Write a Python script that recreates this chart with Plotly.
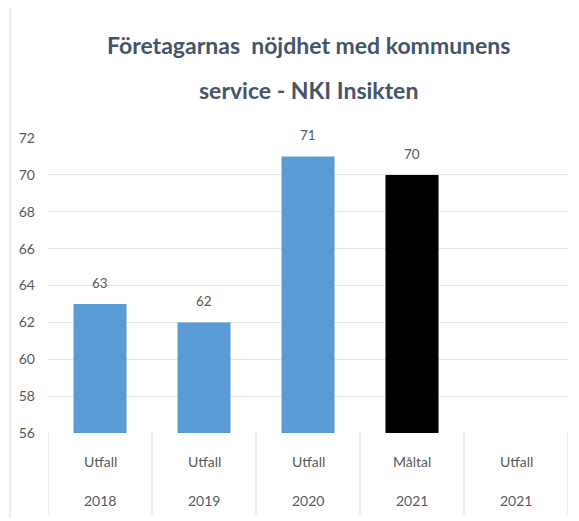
import plotly.graph_objects as go

types = ["Utfall", "Utfall", "Utfall", "Måltal", "Utfall"]
years = ["2018", "2019", "2020", "2021", "2021"]
values = [63, 62, 71, 70, None]
colors = ["#5B9BD5", "#5B9BD5", "#5B9BD5", "#000000", "#5B9BD5"]
y_ticks = [56, 58, 60, 62, 64, 66, 68, 70, 72]

n = len(types)
idx = list(range(n))
txt_col = "#595959"
grid_col = "#DFE4EC"
font_fam = "Lato, 'Open Sans', sans-serif"
PH = 295.0  # plot height in px

fig = go.Figure()
fig.add_trace(go.Bar(
    x=idx, y=[v - 56 if v is not None else None for v in values], base=56,
    marker=dict(color=colors, line=dict(width=0)),
    width=0.51,
    hoverinfo="skip",
))

shapes = []
for i in range(n + 1):
    shapes.append(dict(type="line", xref="x", yref="paper", x0=i - 0.5, x1=i - 0.5,
                       y0=0, y1=-82 / PH, line=dict(color=grid_col, width=1.3)))
shapes.append(dict(type="line", xref="paper", yref="paper", x0=-38 / 520, x1=-38 / 520,
                   y0=-85 / PH, y1=1 + 130 / PH, line=dict(color="#DDE3EC", width=1.3)))

annotations = []
for i in idx:
    if values[i] is not None:
        annotations.append(dict(x=i, y=values[i], xref="x", yref="y", text=str(values[i]),
                                showarrow=False, yanchor="middle", yshift=21,
                                font=dict(size=13.5, color=txt_col, family=font_fam)))
    annotations.append(dict(x=i, y=-28 / PH, xref="x", yref="paper", text=types[i],
                            showarrow=False, yanchor="middle",
                            font=dict(size=14, color=txt_col, family=font_fam)))
    annotations.append(dict(x=i, y=-67 / PH, xref="x", yref="paper", text=years[i],
                            showarrow=False, yanchor="middle",
                            font=dict(size=14, color=txt_col, family=font_fam)))

title_col = "#44546A"
annotations.append(dict(x=0.5, y=1 + 93 / PH, xref="paper", yref="paper",
                        text="<b>Företagarnas  nöjdhet med kommunens</b>", showarrow=False,
                        yanchor="middle", xanchor="center",
                        font=dict(size=23, color=title_col, family=font_fam)))
annotations.append(dict(x=0.5, y=1 + 48 / PH, xref="paper", yref="paper",
                        text="<b>service - NKI Insikten</b>", showarrow=False,
                        yanchor="middle", xanchor="center",
                        font=dict(size=23, color=title_col, family=font_fam)))

fig.update_layout(
    width=571, height=513,
    margin=dict(l=40, r=11, t=130, b=88),
    paper_bgcolor="white", plot_bgcolor="white",
    showlegend=False,
    xaxis=dict(range=[-0.5, n - 0.5], showticklabels=False, showgrid=False,
               zeroline=False, showline=False, fixedrange=True),
    yaxis=dict(range=[56, 72], tickvals=y_ticks, ticktext=[str(t) for t in y_ticks],
               showgrid=True, gridcolor=grid_col, gridwidth=1.3, zeroline=False,
               showline=False, ticks="", ticklabelstandoff=12,
               tickfont=dict(size=14, color=txt_col, family=font_fam)),
    shapes=shapes, annotations=annotations,
)

fig.write_html("out.html")
